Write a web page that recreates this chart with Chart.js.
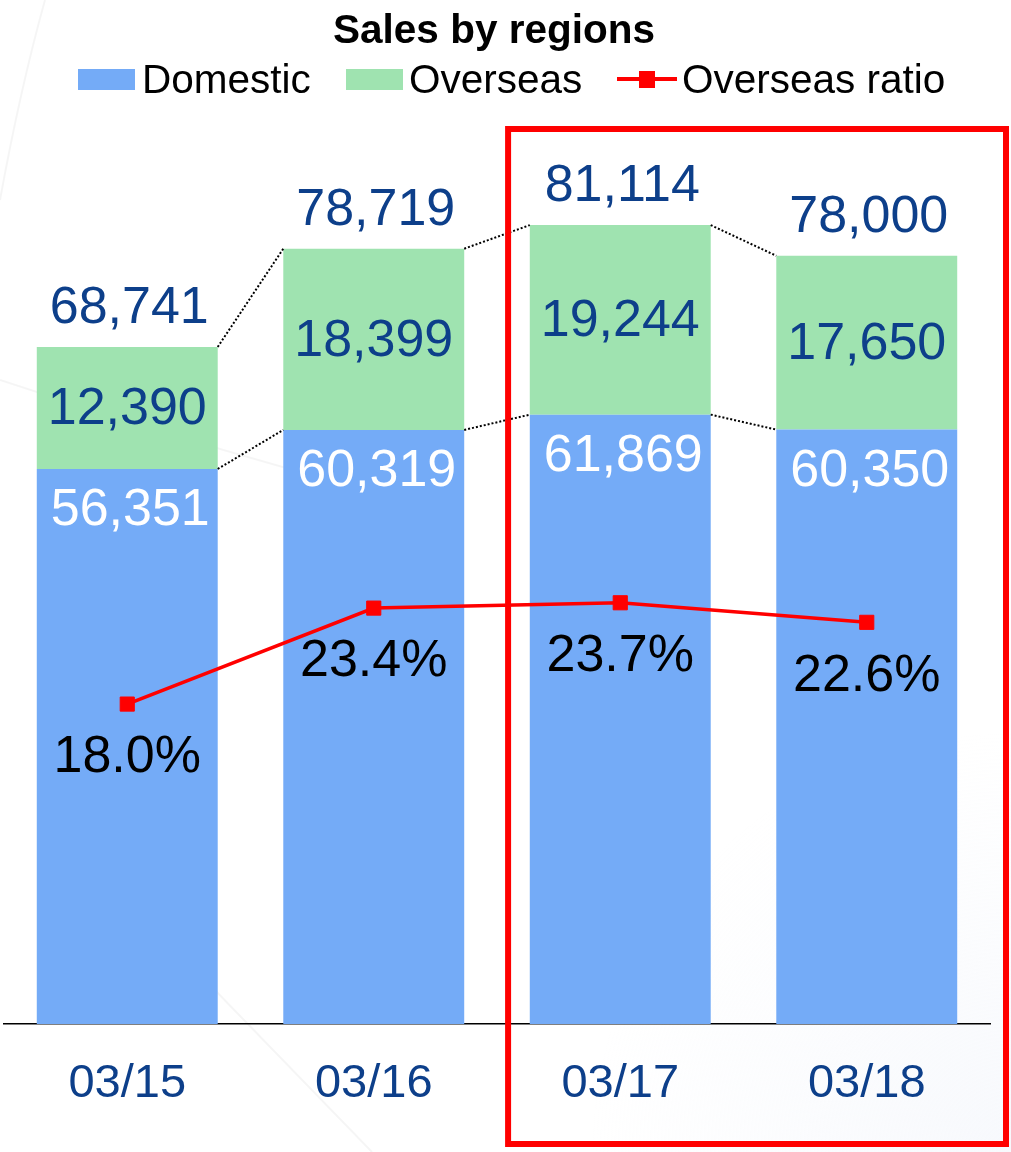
<!DOCTYPE html>
<html><head><meta charset="utf-8">
<script src="https://cdn.jsdelivr.net/npm/chart.js@4.4.1/dist/chart.umd.min.js"></script>
<style>
html,body{margin:0;padding:0;background:#fff;}
#wrap{position:relative;width:1011px;height:1152px;overflow:hidden;font-family:"Liberation Sans",Arial,sans-serif;}
canvas{position:absolute;left:0;top:0;}
.t{position:absolute;line-height:1;white-space:nowrap;color:#000;}
.box{position:absolute;}
</style></head><body>
<div id="wrap">
<canvas id="c" width="1011" height="1152"></canvas>
<div class="t" id="title" style="left:0;width:988px;top:9px;font-size:40.5px;font-weight:bold;text-align:center;">Sales by regions</div>
</div>
<script>
// ---- data ----
const categories = ['03/15', '03/16', '03/17', '03/18'];
const domestic = [56351, 60319, 61869, 60350];
const overseas = [12390, 18399, 19244, 17650];
const totals = [68741, 78719, 81114, 78000];
const overseasRatio = [18.0, 23.4, 23.7, 22.6];
const seriesNames = ['Domestic', 'Overseas', 'Overseas ratio'];

// ---- styles ----
const BLUE = '#74ABF7', GREEN = '#9FE3B0', RED = '#FF0000', NAVY = '#0D3F8A';
const FONT = '"Liberation Sans", Arial, sans-serif';

// ---- legend (HTML) ----
const wrap = document.getElementById('wrap');
const legendLayout = [
  {kind: 'box', color: BLUE, mark: 78, text: 142},
  {kind: 'box', color: GREEN, mark: 346, text: 409},
  {kind: 'line', color: RED, mark: 617, text: 682}
];
legendLayout.forEach((it, i) => {
  if (it.kind === 'box') {
    const b = document.createElement('div');
    b.className = 'box';
    b.style.cssText = `left:${it.mark}px;top:69px;width:57px;height:21px;background:${it.color};`;
    wrap.appendChild(b);
  } else {
    const l = document.createElement('div');
    l.className = 'box';
    l.style.cssText = `left:${it.mark}px;top:77px;width:60px;height:4px;background:${it.color};`;
    wrap.appendChild(l);
    const m = document.createElement('div');
    m.className = 'box';
    m.style.cssText = `left:${it.mark + 22}px;top:71px;width:16px;height:17px;background:${it.color};`;
    wrap.appendChild(m);
  }
  const t = document.createElement('div');
  t.className = 't';
  t.style.cssText = `left:${it.text}px;top:59px;font-size:40.5px;`;
  t.textContent = seriesNames[i];
  wrap.appendChild(t);
});

const fmt = v => v.toLocaleString('en-US');

const bgPlugin = {
  id: 'bg',
  beforeDraw(chart) {
    const ctx = chart.ctx;
    ctx.save();
    const g = ctx.createRadialGradient(1011, 1152, 10, 1011, 1152, 420);
    g.addColorStop(0, 'rgba(238,242,250,0.45)');
    g.addColorStop(1, 'rgba(238,242,250,0)');
    ctx.fillStyle = g;
    ctx.fillRect(0, 0, 1011, 1152);
    ctx.strokeStyle = 'rgba(0,0,0,0.04)';
    ctx.lineWidth = 2;
    ctx.beginPath(); ctx.moveTo(45, 0); ctx.quadraticCurveTo(20, 90, 0, 200); ctx.stroke();
    ctx.beginPath(); ctx.moveTo(0, 380); ctx.quadraticCurveTo(150, 430, 300, 472); ctx.stroke();
    ctx.beginPath(); ctx.moveTo(210, 985); ctx.lineTo(372, 1152); ctx.stroke();
    ctx.restore();
  }
};

const labelPlugin = {
  id: 'valueLabels',
  afterDatasetsDraw(chart) {
    const ctx = chart.ctx;
    const dm = chart.getDatasetMeta(0), om = chart.getDatasetMeta(1), rm = chart.getDatasetMeta(2);
    ctx.save();
    // dotted connectors
    ctx.strokeStyle = '#000';
    ctx.lineWidth = 2;
    ctx.setLineDash([2, 2]);
    for (let i = 0; i < categories.length - 1; i++) {
      [om, dm].forEach(meta => {
        const a = meta.data[i], b = meta.data[i + 1];
        ctx.beginPath();
        ctx.moveTo(a.x + a.width / 2, a.y);
        ctx.lineTo(b.x - b.width / 2, b.y);
        ctx.stroke();
      });
    }
    ctx.setLineDash([]);
    ctx.font = '52px ' + FONT;
    ctx.textAlign = 'center';
    categories.forEach((c, i) => {
      const o = om.data[i], d = dm.data[i], r = rm.data[i];
      ctx.fillStyle = NAVY;
      ctx.textBaseline = 'alphabetic';
      ctx.fillText(fmt(totals[i]), o.x + 2, o.y - 24);
      ctx.textBaseline = 'middle';
      ctx.fillText(fmt(overseas[i]), o.x, (o.y + o.base) / 2 + 2);
      ctx.fillStyle = '#fff';
      ctx.fillText(fmt(domestic[i]), d.x + 3, d.y + 42);
      ctx.fillStyle = '#000';
      ctx.fillText(overseasRatio[i].toFixed(1) + '%', r.x, r.y + 54);
    });
    ctx.restore();
  },
  afterDraw(chart) {
    const ctx = chart.ctx, xs = chart.scales.x, area = chart.chartArea;
    const cat = (xs.getPixelForValue(1) - xs.getPixelForValue(0));
    const left = xs.getPixelForValue(2) - cat * 0.455;
    const right = area.right + 16;
    const top = area.top - 1;
    const bottom = chart.height - 8;
    ctx.save();
    ctx.strokeStyle = RED;
    ctx.lineWidth = 6;
    ctx.strokeRect(left, top, right - left, bottom - top);
    ctx.restore();
  }
};

new Chart(document.getElementById('c'), {
  type: 'bar',
  data: {
    labels: categories,
    datasets: [
      {label: seriesNames[0], data: domestic, backgroundColor: BLUE, stack: 's', yAxisID: 'y', order: 2,
       categoryPercentage: 1, barPercentage: 0.734},
      {label: seriesNames[1], data: overseas, backgroundColor: GREEN, stack: 's', yAxisID: 'y', order: 2,
       categoryPercentage: 1, barPercentage: 0.734},
      {label: seriesNames[2], type: 'line', data: overseasRatio, yAxisID: 'y1', order: 0,
       borderColor: RED, borderWidth: 3.5, backgroundColor: RED,
       pointStyle: 'rect', pointRadius: 10, pointBorderWidth: 1, pointBackgroundColor: RED, pointBorderColor: RED,
       tension: 0}
    ]
  },
  options: {
    responsive: false,
    animation: false,
    devicePixelRatio: 1,
    layout: {autoPadding: false, padding: {left: 4, right: 21, top: 130, bottom: 0}},
    plugins: {legend: {display: false}, title: {display: false}, tooltip: {enabled: false}},
    scales: {
      x: {
        stacked: true,
        grid: {display: false, drawTicks: false},
        border: {display: true, color: '#000', width: 1.5},
        ticks: {color: NAVY, font: {family: FONT, size: 47}, padding: 32},
        afterFit: s => { s.height = 128; }
      },
      y: {stacked: true, display: false, min: 0, max: 90770},
      y1: {display: false, min: 0, max: 50.3, position: 'right'}
    }
  },
  plugins: [bgPlugin, labelPlugin]
});
</script>
</body></html>
